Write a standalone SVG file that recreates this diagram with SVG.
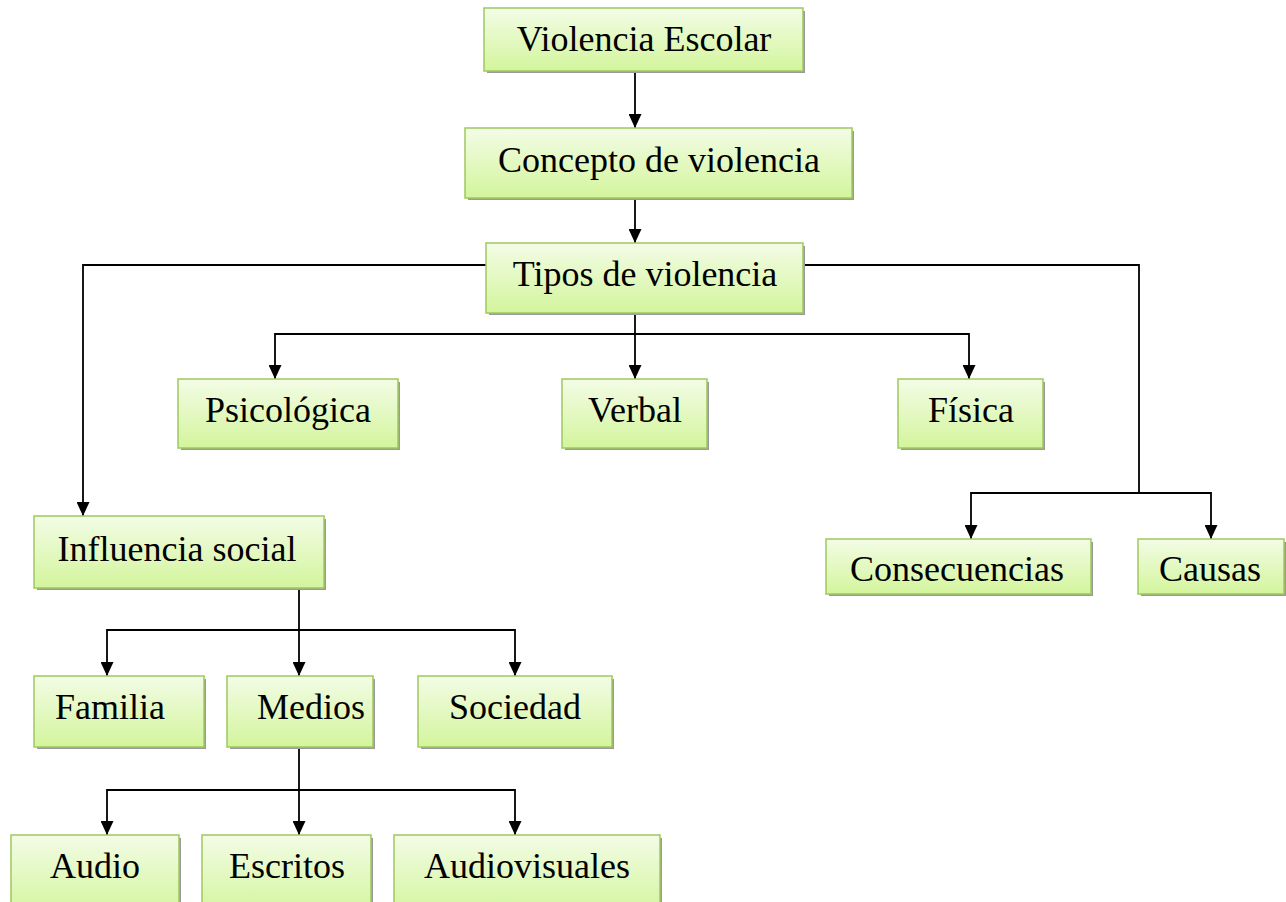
<svg xmlns="http://www.w3.org/2000/svg" width="1286" height="902" viewBox="0 0 1286 902">
<style>
.box{fill:url(#g);stroke:#9fc85e;stroke-width:1.5}
.sh{fill:#9a9a9a}
.t{font-family:"Liberation Serif","Times New Roman",serif;font-size:36px;fill:#000;text-anchor:middle}
.c{fill:none;stroke:#000;stroke-width:1.8}
</style>
<defs>
<linearGradient id="g" x1="0" y1="0" x2="0" y2="1">
<stop offset="0" stop-color="#f3fce6"/>
<stop offset="1" stop-color="#d3f59c"/>
</linearGradient>
<marker id="a" viewBox="0 0 14 13" markerWidth="14" markerHeight="13" refX="14" refY="6.5" orient="auto" markerUnits="userSpaceOnUse">
<path d="M0,0 L14,6.5 L0,13 z" fill="#000"/>
</marker>
</defs>
<rect width="1286" height="902" fill="#fff"/>
<g id="connectors">
<path class="c" d="M635,71 V128" marker-end="url(#a)"/>
<path class="c" d="M635,198 V243" marker-end="url(#a)"/>
<path class="c" d="M486,265 H83 V516" marker-end="url(#a)"/>
<path class="c" d="M803,265 H1139 V493"/>
<path class="c" d="M1139,493 H971 V539" marker-end="url(#a)"/>
<path class="c" d="M1139,493 H1211 V539" marker-end="url(#a)"/>
<path class="c" d="M635,313 V379" marker-end="url(#a)"/>
<path class="c" d="M635,334 H275 V379" marker-end="url(#a)"/>
<path class="c" d="M635,334 H969 V379" marker-end="url(#a)"/>
<path class="c" d="M299,588 V676" marker-end="url(#a)"/>
<path class="c" d="M299,630 H107 V676" marker-end="url(#a)"/>
<path class="c" d="M299,630 H515 V676" marker-end="url(#a)"/>
<path class="c" d="M299,747 V835" marker-end="url(#a)"/>
<path class="c" d="M299,790 H107 V835" marker-end="url(#a)"/>
<path class="c" d="M299,790 H515 V835" marker-end="url(#a)"/>
</g>
<g id="n1"><rect class="sh" x="487" y="11" width="318" height="62"/><rect class="box" x="484" y="8" width="319" height="63"/><text class="t" x="644" y="51">Violencia Escolar</text></g>
<g id="n2"><rect class="sh" x="468" y="131" width="386" height="69"/><rect class="box" x="465" y="128" width="387" height="70"/><text class="t" x="659" y="172">Concepto de violencia</text></g>
<g id="n3"><rect class="sh" x="489" y="246" width="316" height="69"/><rect class="box" x="486" y="243" width="317" height="70"/><text class="t" x="645" y="286">Tipos de violencia</text></g>
<g id="n4"><rect class="sh" x="181" y="382" width="219" height="68"/><rect class="box" x="178" y="379" width="220" height="69"/><text class="t" x="288" y="422">Psicológica</text></g>
<g id="n5"><rect class="sh" x="565" y="382" width="144" height="68"/><rect class="box" x="562" y="379" width="145" height="69"/><text class="t" x="635" y="422">Verbal</text></g>
<g id="n6"><rect class="sh" x="901" y="382" width="144" height="68"/><rect class="box" x="898" y="379" width="145" height="69"/><text class="t" x="971" y="422">Física</text></g>
<g id="n7"><rect class="sh" x="37" y="519" width="289" height="71"/><rect class="box" x="34" y="516" width="290" height="72"/><text class="t" x="177" y="561">Influencia social</text></g>
<g id="n8"><rect class="sh" x="829" y="542" width="264" height="54"/><rect class="box" x="826" y="539" width="265" height="55"/><text class="t" x="957" y="581">Consecuencias</text></g>
<g id="n9"><rect class="sh" x="1141" y="542" width="145" height="54"/><rect class="box" x="1138" y="539" width="146" height="55"/><text class="t" x="1210" y="581">Causas</text></g>
<g id="n10"><rect class="sh" x="37" y="679" width="169" height="70"/><rect class="box" x="34" y="676" width="170" height="71"/><text class="t" x="110" y="719">Familia</text></g>
<g id="n11"><rect class="sh" x="230" y="679" width="145" height="70"/><rect class="box" x="227" y="676" width="146" height="71"/><text class="t" x="311" y="719">Medios</text></g>
<g id="n12"><rect class="sh" x="421" y="679" width="193" height="70"/><rect class="box" x="418" y="676" width="194" height="71"/><text class="t" x="515" y="719">Sociedad</text></g>
<g id="n13"><rect class="sh" x="14" y="838" width="167" height="80"/><rect class="box" x="11" y="835" width="168" height="80"/><text class="t" x="95" y="878">Audio</text></g>
<g id="n14"><rect class="sh" x="205" y="838" width="168" height="80"/><rect class="box" x="202" y="835" width="169" height="80"/><text class="t" x="287" y="878">Escritos</text></g>
<g id="n15"><rect class="sh" x="397" y="838" width="265" height="80"/><rect class="box" x="394" y="835" width="266" height="80"/><text class="t" x="527" y="878">Audiovisuales</text></g>
</svg>
